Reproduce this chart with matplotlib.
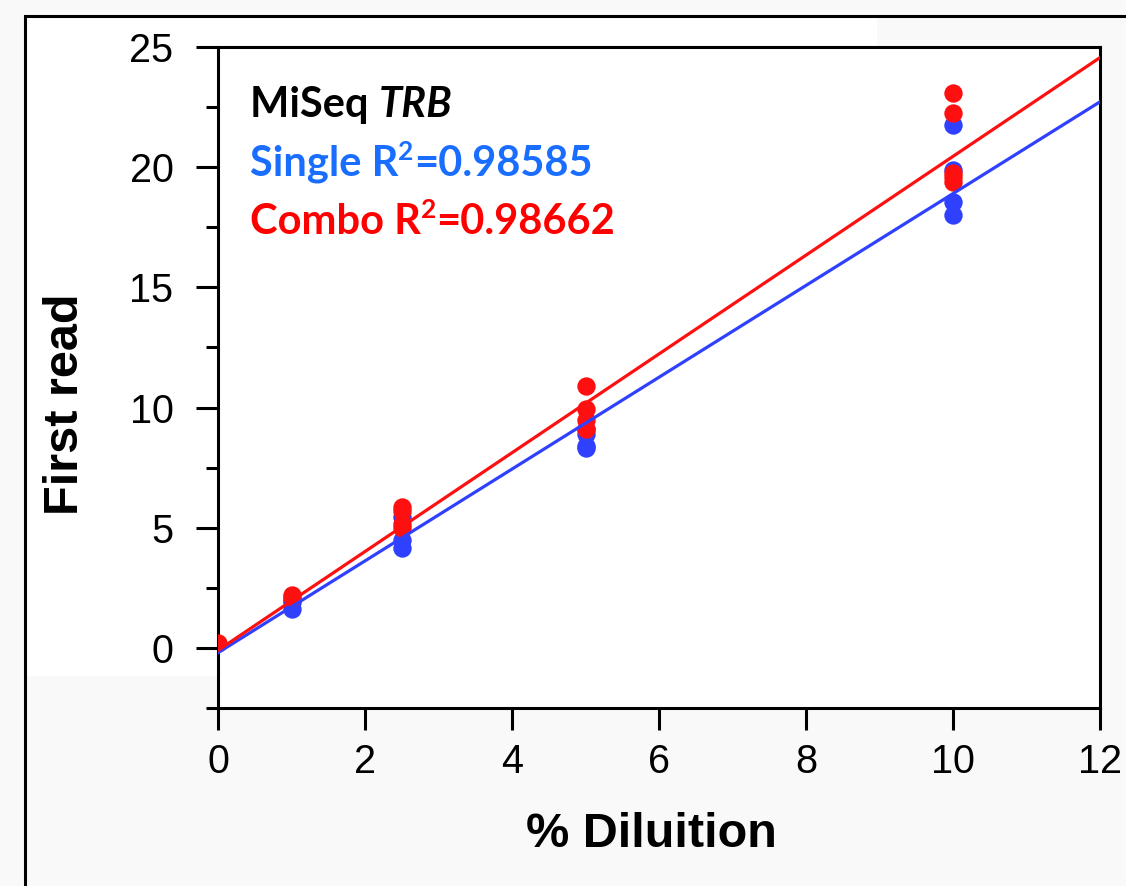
import numpy as np
import matplotlib.pyplot as plt
from matplotlib.patches import Rectangle
from matplotlib.ticker import MultipleLocator

# dilution (%) and first-read values
single_x = [1, 1, 1, 2.5, 2.5, 2.5, 5, 5, 5, 5, 10, 10, 10, 10]
single_y = [1.6, 1.9, 2.0, 4.15, 4.5, 5.45, 8.3, 8.4, 8.9, 9.1, 18.0, 18.55, 19.9, 21.75]
combo_x = [0, 1, 1, 2.5, 2.5, 2.5, 2.5, 5, 5, 5, 5, 10, 10, 10, 10, 10]
combo_y = [0.2, 2.1, 2.2, 5.0, 5.15, 5.7, 5.85, 9.1, 9.5, 9.95, 10.9, 19.4, 19.6, 19.75, 22.25, 23.1]

# linear fits (slope, intercept)
single_fit = [1.91, -0.2]
combo_fit = [2.055, -0.1]
single_r2 = "0.98585"
combo_r2 = "0.98662"

xticks = [0, 2, 4, 6, 8, 10, 12]
yticks = [0, 5, 10, 15, 20, 25]

blue = '#2f40ff'
red = '#ff1010'
blue_txt = '#1a6eff'
red_txt = '#ff0000'

W, H = 1126, 886
fig = plt.figure(figsize=(W / 100, H / 100), dpi=100)
fig.patch.set_facecolor('#f9f9f9')
fig.add_artist(Rectangle((25 / W, 1 - 676 / H), (877 - 25) / W, (676 - 17) / H,
                         transform=fig.transFigure, facecolor='white',
                         edgecolor='none', zorder=0))
fig.add_artist(Rectangle((25 / W, -0.2), 1.2, 1 - 16 / H + 0.2,
                         transform=fig.transFigure, fill=False,
                         edgecolor='black', lw=2.2, zorder=1))

ax = fig.add_axes([218 / W, 1 - 708 / H, (1100 - 218) / W, (708 - 47) / H])
ax.set_facecolor('white')

ax.scatter(single_x, single_y, s=175, color=blue, zorder=3, linewidths=0)
ax.scatter(combo_x, combo_y, s=175, color=red, zorder=3, linewidths=0)

xx = np.array([0, 12])
ax.plot(xx, single_fit[0] * xx + single_fit[1], color=blue, lw=2.3, zorder=4)
ax.plot(xx, combo_fit[0] * xx + combo_fit[1], color=red, lw=2.3, zorder=4)

ax.set_xlim(0, 12)
ax.set_ylim(-2.5, 25)
ax.set_xticks(xticks)
ax.set_yticks(yticks)
ax.yaxis.set_minor_locator(MultipleLocator(2.5))

for sp in ax.spines.values():
    sp.set_linewidth(2.2)
ax.tick_params(which='major', direction='out', length=16, width=2.2)
ax.tick_params(which='minor', direction='out', length=8.5, width=2.2)
ax.tick_params(axis='y', pad=16)
ax.tick_params(axis='x', pad=9)
for lab in ax.get_xticklabels() + ax.get_yticklabels():
    lab.set_fontfamily('Liberation Sans')
    lab.set_fontsize(28.5)

ax.set_xlabel('% Diluition', fontfamily='Liberation Sans', fontweight='bold', fontsize=35)
ax.set_ylabel('First read', fontfamily='Liberation Sans', fontweight='bold', fontsize=35)
ax.xaxis.set_label_coords((651 - 218) / 882, (708 - 812) / 661)
ax.yaxis.set_label_coords((88 - 218) / 882, (708 - 404) / 661)


def chain(x, y, pieces, color):
    # pieces: (text, fontsize, style, raise in points); all share the first baseline
    first = ax.text(x, y, pieces[0][0], color=color, fontfamily='Lato', fontweight='bold',
                    fontsize=pieces[0][1], fontstyle=pieces[0][2], transform=ax.transAxes,
                    va='bottom', ha='left')
    prev = first
    for txt, fs, st, rise in pieces[1:]:
        prev = ax.annotate(txt, xy=(1, 0), xycoords=(prev, first), xytext=(0, rise),
                           textcoords='offset points', va='bottom', ha='left',
                           color=color, fontfamily='Lato', fontweight='bold',
                           fontsize=fs, fontstyle=st)


fs = 30
x0 = (250 - 218) / 882
chain(x0, (708 - 124) / 661, [('MiSeq ', fs, 'normal', 0), ('TRB', fs, 'italic', 0)], 'black')
chain(x0, (708 - 183) / 661, [('Single R', fs, 'normal', 0), ('2', 19, 'normal', 14),
                              ('=' + single_r2, fs, 'normal', 0)], blue_txt)
chain(x0, (708 - 241) / 661, [('Combo R', fs, 'normal', 0), ('2', 19, 'normal', 14),
                              ('=' + combo_r2, fs, 'normal', 0)], red_txt)

fig.savefig('out.png', dpi=100, facecolor=fig.get_facecolor())
